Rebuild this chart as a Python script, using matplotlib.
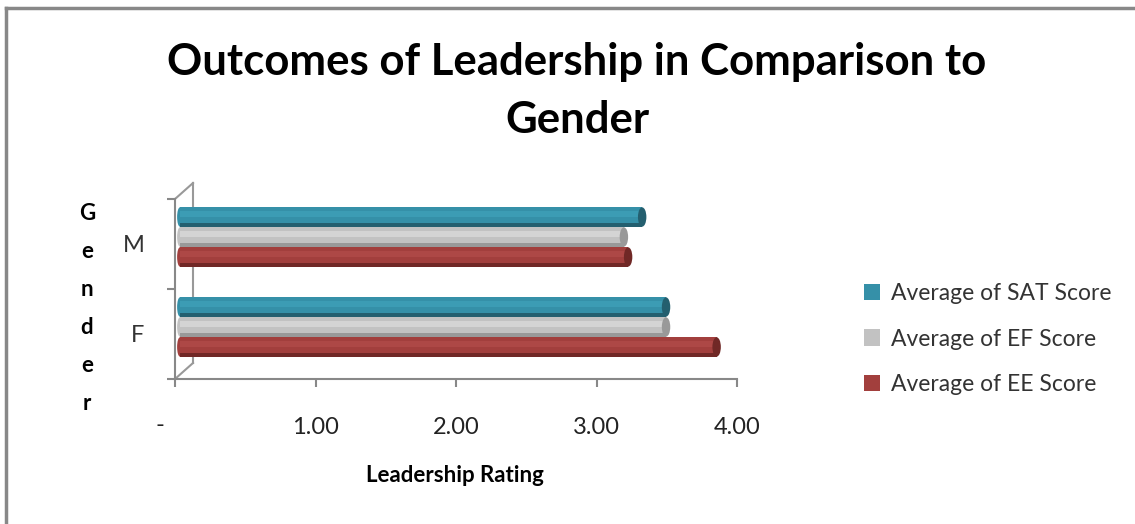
import numpy as np
import matplotlib
matplotlib.use("Agg")
import matplotlib.pyplot as plt
from matplotlib.patches import Ellipse, Patch
from matplotlib.lines import Line2D

plt.rcParams['font.family'] = ['Lato', 'DejaVu Sans']

genders = ['F', 'M']
series = ['Average of SAT Score', 'Average of EF Score', 'Average of EE Score']
sat = [3.46, 3.29]
ef = [3.46, 3.16]
ee = [3.82, 3.19]
xticks = [0, 1, 2, 3, 4]
xtick_labels = ['-', '1.00', '2.00', '3.00', '4.00']

# colours: (base, light, dark)
cols = [('#3590A8', '#3C9CB4', '#245F6F'),
        ('#C2C2C2', '#D4D4D4', '#999999'),
        ('#A23F3D', '#AD4846', '#702826')]
offsets = [0.30, 0.078, -0.144]   # bar centre relative to category middle
bh = 0.215
shift = 0.035                     # 3d depth nudge of the bars

fig = plt.figure(figsize=(11.35, 5.24), dpi=100)
# chart frame (only top and left edges show)
fig.add_artist(Line2D([6 / 1135, 6 / 1135], [0, 1 - 8 / 524], transform=fig.transFigure,
                      color='#888888', lw=2.5))
fig.add_artist(Line2D([6 / 1135, 1], [1 - 8 / 524, 1 - 8 / 524], transform=fig.transFigure,
                      color='#888888', lw=2.5))
ax = fig.add_axes([175 / 1135, 145 / 524, 562 / 1135, 180 / 524])

y = np.arange(len(genders)) + 0.5
for vals, (c, cl, cd), off in zip([sat, ef, ee], cols, offsets):
    yy = y + off
    ax.barh(yy, vals, height=bh, left=shift, color=cd, zorder=3)
    ax.barh(yy + 0.02, vals, height=bh * 0.8, left=shift, color=c, zorder=4)
    ax.barh(yy + 0.035, vals, height=bh * 0.3, left=shift, color=cl, zorder=5)
    for v, yc in zip(vals, yy):
        ax.add_patch(Ellipse((v + shift, yc), 0.06, bh, facecolor=cd, edgecolor='none', zorder=6))
        ax.add_patch(Ellipse((shift, yc), 0.04, bh, facecolor=c, edgecolor='none', zorder=2))

ax.set_xlim(0, 4)
ax.set_ylim(0, 2)
ax.set_xticks(xticks)
ax.set_xticklabels([''] + xtick_labels[1:], fontsize=17, color='#222222')
# the zero label sits left of its tick in the original
ax.annotate(xtick_labels[0], xy=(xticks[0], 0), xycoords=('data', 'axes fraction'),
            xytext=(-15, -46), textcoords='offset pixels', ha='center', va='center',
            fontsize=17, color='#222222', annotation_clip=False)
ax.set_yticks([0, 1, 2])
ax.set_yticklabels([])
ax.set_yticks(y, genders, minor=True)
ax.tick_params(axis='y', which='minor', length=0, pad=22, labelsize=17, labelcolor='#333333')
ax.tick_params(axis='y', which='major', length=6, color='#888888', width=1.5)
ax.tick_params(axis='x', length=6, color='#888888', width=1.5, pad=21)
for s in ['top', 'right']:
    ax.spines[s].set_visible(False)
for s in ['left', 'bottom']:
    ax.spines[s].set_color('#888888')
    ax.spines[s].set_linewidth(1.5)
ax.set_facecolor('none')

# 3d wall lines
dx, dy = 18 / 562, 16 / 180
kw = dict(transform=ax.transAxes, color='#999999', lw=1.5, clip_on=False, zorder=1)
ax.plot([dx, dx], [dy, 1 + dy], **kw)
ax.plot([0, dx], [0, dy], **kw)
ax.plot([0, dx], [1, 1 + dy], **kw)

fig.text(577 / 1135, 1 - 62 / 524, 'Outcomes of Leadership in Comparison to', ha='center', va='center',
         fontsize=31.5, fontweight='bold')
fig.text(577 / 1135, 1 - 120 / 524, 'Gender', ha='center', va='center', fontsize=31.5, fontweight='bold')
fig.text(455 / 1135, 1 - 476 / 524, 'Leadership Rating', ha='center', va='center', fontsize=16,
         fontweight='bold')
fig.text(87 / 1135, 1 - 308 / 524, '\n'.join('Gender'), ha='center', va='center', fontsize=16,
         fontweight='bold', linespacing=2.0)

handles = [Patch(facecolor=c[0], edgecolor='none') for c in cols]
fig.legend(handles, series, loc='center left', bbox_to_anchor=(843 / 1135, 1 - 339 / 524),
           frameon=False, fontsize=16.5, labelspacing=1.05, handlelength=0.7, handleheight=0.7,
           handletextpad=0.5, labelcolor='#333333')

fig.savefig('out.png', dpi=100)
